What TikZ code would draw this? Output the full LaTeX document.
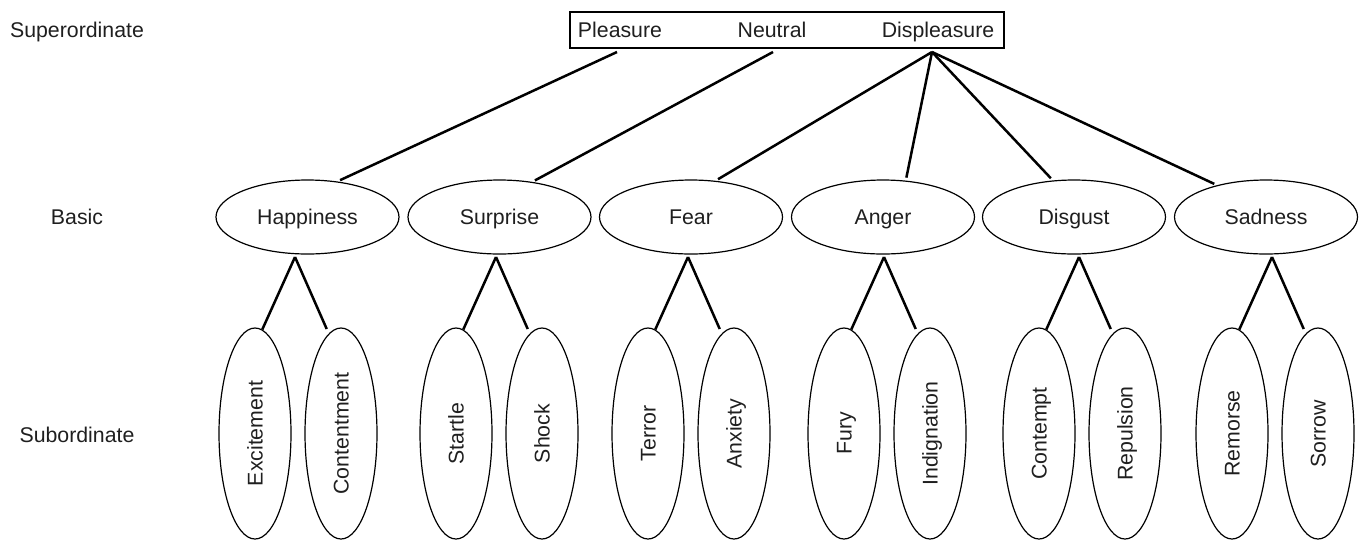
\documentclass[tikz,border=0pt]{standalone}
\usepackage{fontspec}
\setmainfont{Liberation Sans}
\usetikzlibrary{shapes.geometric}

\begin{document}
\begin{tikzpicture}[x=1pt,y=-1pt,
  base/.style={font=\fontsize{21.3}{25}\selectfont, text=black!88, inner sep=0pt},
  txt/.style={base, text height=15.3pt, text depth=0pt},
  basic/.style={txt, draw, ellipse, line width=1.2pt, minimum width=183pt, minimum height=74pt},
  sub/.style={base, draw, ellipse, line width=1.2pt, minimum width=72pt, minimum height=211pt},
  link/.style={line width=2.5pt}]
\useasboundingbox (0,0) rectangle (1364,542);

% level labels
\node[txt] (lsup) at (77,30) {Superordinate};
\node[txt] (lbas) at (77,217) {Basic};
\node[txt] (lsub) at (77,435) {Subordinate};

% superordinate box
\node[draw, line width=1.2pt, minimum width=434pt, minimum height=36pt, inner sep=0pt] (sup) at (787,30) {};
\node[txt] (pl) at (620,30) {Pleasure};
\node[txt] (ne) at (772,30) {Neutral};
\node[txt] (di) at (938,30) {Displeasure};
\coordinate (plS) at ([xshift=-3pt,yshift=-22pt]pl.center);
\coordinate (neS) at ([xshift=1pt,yshift=-22pt]ne.center);
\coordinate (diS) at ([xshift=-6pt,yshift=-22pt]di.center);

% basic emotions and their subordinate pairs
\foreach \name/\lbl/\cx/\ax/\subl/\subr in {
  hap/Happiness/307.5/295/Excitement/Contentment,
  sur/Surprise/499.5/496/Startle/Shock,
  fea/Fear/691/688/Terror/Anxiety,
  ang/Anger/883/884/Fury/Indignation,
  dis/Disgust/1074/1079/Contempt/Repulsion,
  sad/Sadness/1266/1272/Remorse/Sorrow}{
  \node[basic] (\name) at (\cx,217) {\lbl};
  \coordinate (\name-v) at (\ax,257);
  \node[sub] (\name-l) at (\ax-40,433.5) {\rotatebox{90}{\rule{0pt}{15.3pt}\smash{\subl}}};
  \node[sub] (\name-r) at (\ax+46,433.5) {\rotatebox{90}{\rule{0pt}{15.3pt}\smash{\subr}}};
  \draw[link] (\name-v) -- (\name-l.86);
  \draw[link, shorten >=5pt] (\name-v) -- (\name-r.97);
}

% superordinate to basic
\draw[link, shorten >=3pt] (plS) -- (hap.50);
\draw[link, shorten >=3pt] (neS) -- (sur.47);
\draw[link, shorten >=3pt] (diS) -- (fea.56);
\draw[link, shorten >=3pt] (diS) -- (ang.58);
\draw[link, shorten >=3pt] (diS) -- (dis.120);
\draw[link, shorten >=3pt] (diS) -- (sad.147);
\end{tikzpicture}
\end{document}
